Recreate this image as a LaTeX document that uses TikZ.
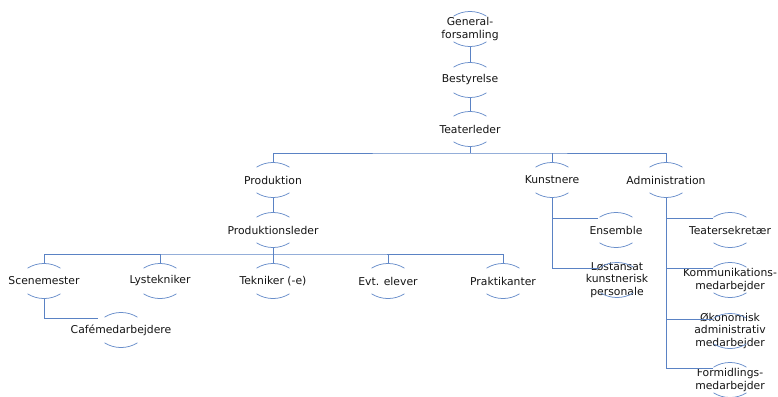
\documentclass[tikz,border=0pt]{standalone}
\usepackage{fontspec}
\setmainfont{DejaVu Sans}
\usepackage{tikz}
\definecolor{lineblue}{HTML}{5A82C4}
\definecolor{arcblue}{HTML}{6A8FCB}
\definecolor{textgray}{HTML}{141414}
\newcommand{\unitfont}{\fontsize{10.8}{12.6}\selectfont}
\tikzstyle{unit}=[align=center, inner sep=0pt, minimum width=34pt, minimum height=35pt, text=textgray, font=\unitfont]

\begin{document}
\begin{tikzpicture}[x=1pt, y=-1pt, line width=0.75pt]
	\useasboundingbox (0,0) rectangle (778,396);
	% top of the tree
	\node[unit] (gf) at (470,29){General-\\forsamling};
	\node[unit] (best) at (470,80){Bestyrelse};
	\node[unit] (tl) at (470,129){Teaterleder};
	% departments
	\node[unit] (prod) at (273,180){Produktion};
	\node[unit] (kun) at (552,180){Kunstnere};
	\node[unit] (adm) at (666,180){Administration};
	\node[unit] (pl) at (273,230){Produktionsleder};
	% production staff
	\node[unit] (scm) at (44,281){Scenemester};
	\node[unit] (lys) at (160,281){Lystekniker};
	\node[unit] (tek) at (273,281){Tekniker (-e)};
	\node[unit] (evt) at (388,281){Evt. elever};
	\node[unit] (prak) at (503,281){Praktikanter};
	\node[unit] (cafe) at (121,330){Cafémedarbejdere};
	% artists
	\node[unit] (ens) at (616,230){Ensemble};
	\node[unit] (lost) at (617,280){Løstansat\\kunstnerisk\\personale};
	% administration
	\node[unit] (sek) at (730,230){Teatersekretær};
	\node[unit] (komm) at (730,280){Kommunikations-\\medarbejder};
	\node[unit] (oko) at (730,331){Økonomisk\\administrativ\\medarbejder};
	\node[unit] (form) at (730,380){Formidlings-\\medarbejder};
	% arcs above and below each unit
	\foreach \n in {gf,best,tl,prod,kun,adm,pl,scm,lys,tek,evt,prak,cafe,ens,lost,sek,komm,oko,form}{
		\path[draw=arcblue] ([shift={(-16.5,-12.8)}]\n.center) .. controls +(10,-6.3) and +(-10,-6.3) .. ([shift={(16.5,-12.8)}]\n.center);
		\path[draw=arcblue] ([shift={(-16.5,12.8)}]\n.center) .. controls +(10,6.3) and +(-10,6.3) .. ([shift={(16.5,12.8)}]\n.center);
	}
	% connectors
	\coordinate (b1) at (470,153);
	\coordinate (b2) at (273,254);
	\path[draw=lineblue] (gf.south) -- (best.north);
	\path[draw=lineblue] (best.south) -- (tl.north);
	\path[draw=lineblue] (tl.south) -- (b1);
	\path[draw=lineblue] (prod.north) |- (b1) -| (adm.north);
	\path[draw=lineblue] (kun.north) -- (kun.north |- b1);
	\path[draw=lineblue] (prod.south) -- (pl.north);
	\path[draw=lineblue] (pl.south) -- (tek.north);
	\path[draw=lineblue] (scm.north) |- (b2) -| (prak.north);
	\path[draw=lineblue] (lys.north) -- (lys.north |- b2);
	\path[draw=lineblue] (evt.north) -- (evt.north |- b2);
	\path[draw=lineblue] (scm.south) |- ([shift={(-23,-12)}]cafe.center);
	\path[draw=lineblue] (kun.south) |- ([shift={(-18,-12)}]lost.center);
	\path[draw=lineblue] ([shift={(-18,-12)}]ens.center) -| (kun.south);
	\path[draw=lineblue] (adm.south) |- ([shift={(-17,-12)}]form.center);
	\foreach \n in {sek,komm,oko}
		\path[draw=lineblue] ([shift={(-17,-12)}]\n.center) -| (adm.south);
\end{tikzpicture}
\end{document}
